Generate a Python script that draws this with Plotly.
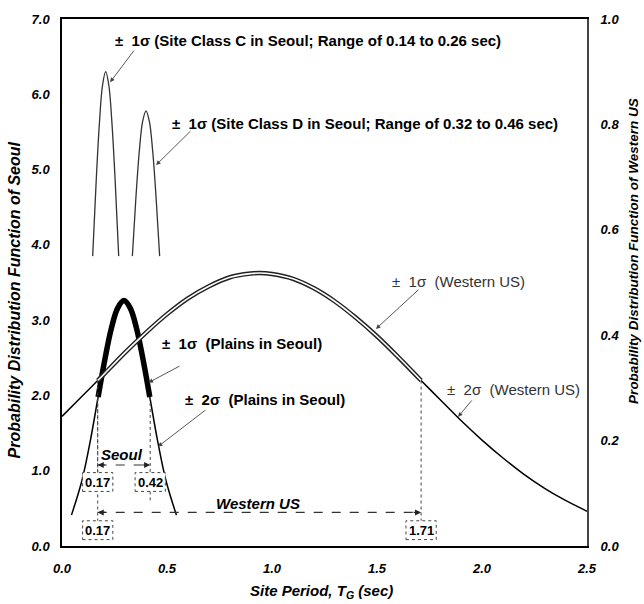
import plotly.graph_objects as go

FONT = "Arial, 'Liberation Sans', sans-serif"

# Western US site-period distribution (right axis)
wus_period = [0.0, 0.1, 0.17, 0.2, 0.3, 0.4, 0.5, 0.6, 0.7, 0.8, 0.9, 0.94, 1.0,
              1.1, 1.2, 1.3, 1.4, 1.5, 1.6, 1.71, 1.8, 1.9, 2.0, 2.1, 2.2, 2.3, 2.4, 2.5]
wus_pdf = [0.246, 0.286, 0.314, 0.326, 0.367, 0.405, 0.440, 0.470, 0.493, 0.510, 0.517, 0.518, 0.516,
           0.507, 0.489, 0.464, 0.433, 0.398, 0.359, 0.314, 0.278, 0.238, 0.201, 0.167, 0.136, 0.109, 0.086, 0.066]
wus_range = [0.17, 1.71]

# Plains in Seoul (left axis)
seoul_period = [0.045, 0.095, 0.135, 0.172, 0.205, 0.235, 0.265, 0.295, 0.325, 0.355, 0.385, 0.418, 0.455, 0.495, 0.545]
seoul_pdf = [0.41, 0.87, 1.40, 1.98, 2.49, 2.89, 3.16, 3.26, 3.16, 2.89, 2.49, 1.98, 1.40, 0.87, 0.41]
seoul_range = [0.17, 0.42]

# Site classes C and D in Seoul (left axis, +/- 1 sigma)
class_c_period = [0.146, 0.163, 0.178, 0.193, 0.208, 0.223, 0.238, 0.253, 0.270]
class_c_pdf = [3.85, 4.86, 5.61, 6.12, 6.30, 6.12, 5.61, 4.86, 3.85]
class_d_period = [0.335, 0.352, 0.368, 0.384, 0.400, 0.416, 0.432, 0.448, 0.465]
class_d_pdf = [3.85, 4.63, 5.24, 5.64, 5.78, 5.64, 5.24, 4.63, 3.85]

x_ticks = [0.0, 0.5, 1.0, 1.5, 2.0, 2.5]
y_ticks = [0.0, 1.0, 2.0, 3.0, 4.0, 5.0, 6.0, 7.0]
y2_ticks = [0.0, 0.2, 0.4, 0.6, 0.8, 1.0]

Y_MAX = 7.0
Y2_MAX = 1.0
SCALE = Y_MAX / Y2_MAX  # right-axis value -> left-axis value


def within(xs, ys, lo, hi):
    pts = [(a, b) for a, b in zip(xs, ys) if lo - 1e-9 <= a <= hi + 0.005]
    return [p[0] for p in pts], [p[1] for p in pts]


def wus_at(x):
    for a, b in zip(wus_period, wus_pdf):
        if abs(a - x) < 1e-9:
            return b
    return None


fig = go.Figure()

spline = dict(shape="spline", smoothing=1.0)

fig.add_trace(go.Scatter(x=class_c_period, y=class_c_pdf, mode="lines",
                         line=dict(color="#333", width=1.3, **spline), yaxis="y"))
fig.add_trace(go.Scatter(x=class_d_period, y=class_d_pdf, mode="lines",
                         line=dict(color="#333", width=1.3, **spline), yaxis="y"))

fig.add_trace(go.Scatter(x=seoul_period, y=seoul_pdf, mode="lines",
                         line=dict(color="black", width=1.5, **spline), yaxis="y"))
sx, sy = within(seoul_period, seoul_pdf, seoul_range[0], seoul_range[1])
fig.add_trace(go.Scatter(x=sx, y=sy, mode="lines",
                         line=dict(color="black", width=5.5, **spline), yaxis="y"))

fig.add_trace(go.Scatter(x=wus_period, y=wus_pdf, mode="lines",
                         line=dict(color="black", width=1.5, **spline), yaxis="y2"))
wx, wy = within(wus_period, wus_pdf, wus_range[0], wus_range[1])
fig.add_trace(go.Scatter(x=wx, y=wy, mode="lines",
                         line=dict(color="#222", width=4.5, **spline), yaxis="y2"))
fig.add_trace(go.Scatter(x=wx, y=wy, mode="lines",
                         line=dict(color="white", width=1.6, **spline), yaxis="y2"))

shapes = []
annotations = []
dash_line = dict(color="#444", width=1, dash="dot")

# Seoul +/- 1 sigma limits
seoul_top = seoul_pdf[seoul_period.index(0.172)]
box_seoul_y = 0.85
box_low_y = 0.21
box_hw, box_hh = 0.072, 0.125
for v in seoul_range:
    shapes.append(dict(type="line", xref="x", yref="y", x0=v, x1=v,
                       y0=seoul_top, y1=box_seoul_y + box_hh, line=dash_line))
shapes.append(dict(type="line", xref="x", yref="y", x0=seoul_range[1], x1=seoul_range[1],
                   y0=box_seoul_y - box_hh, y1=0.57, line=dash_line))

# Western US +/- 1 sigma limits
for v in wus_range:
    shapes.append(dict(type="line", xref="x", yref="y", x0=v, x1=v,
                       y0=wus_at(v) * SCALE, y1=box_low_y + box_hh, line=dash_line))

# horizontal range arrows
seoul_arrow_y = 1.075
wus_arrow_y = 0.446
for y0, rng in [(seoul_arrow_y, seoul_range), (wus_arrow_y, wus_range)]:
    shapes.append(dict(type="line", xref="x", yref="y", x0=rng[0], x1=rng[1],
                       y0=y0, y1=y0, line=dict(color="#333", width=1.1, dash="dash")))
    annotations.append(dict(x=rng[0], y=y0, xref="x", yref="y", ax=9, ay=0, text="",
                            showarrow=True, arrowhead=2, arrowsize=1.1, arrowwidth=1.1,
                            arrowcolor="#222"))
    annotations.append(dict(x=rng[1], y=y0, xref="x", yref="y", ax=-9, ay=0, text="",
                            showarrow=True, arrowhead=2, arrowsize=1.1, arrowwidth=1.1,
                            arrowcolor="#222"))

# value boxes
boxes = [(seoul_range[0], box_seoul_y), (seoul_range[1], box_seoul_y),
         (wus_range[0], box_low_y), (wus_range[1], box_low_y)]
for v, yc in boxes:
    shapes.append(dict(type="rect", xref="x", yref="y", x0=v - box_hw, x1=v + box_hw,
                       y0=yc - box_hh, y1=yc + box_hh, fillcolor="white",
                       line=dict(color="#444", width=1, dash="dot"), layer="above"))
    annotations.append(dict(x=v, y=yc, xref="x", yref="y", text=f"{v:.2f}", showarrow=False,
                            font=dict(family=FONT, size=13, color="black", weight="bold")))

annotations.append(dict(x=0.286, y=1.22, xref="x", yref="y", text="Seoul", showarrow=False,
                        font=dict(family=FONT, size=15, color="black", weight="bold", style="italic")))
annotations.append(dict(x=0.933, y=0.56, xref="x", yref="y", text="Western US", showarrow=False,
                        font=dict(family=FONT, size=15, color="black", weight="bold", style="italic")))

# curve labels
NB = "\u00a0"
bold_lbl = dict(family=FONT, size=15, color="black", weight="bold")
reg_lbl = dict(family=FONT, size=15, color="#333")
labels = [
    (0.243, 6.72, "y", f"±{NB}{NB}1σ (Site Class C in Seoul; Range of 0.14 to 0.26 sec)", bold_lbl),
    (0.514, 5.61, "y", f"±{NB}{NB}1σ (Site Class D in Seoul; Range of 0.32 to 0.46 sec)", bold_lbl),
    (0.467, 2.69, "y", f"±{NB}{NB}1σ{NB}{NB}(Plains in Seoul)", bold_lbl),
    (0.576, 1.94, "y", f"±{NB}{NB}2σ{NB}{NB}(Plains in Seoul)", bold_lbl),
    (1.562, 0.502, "y2", f"±{NB}{NB}1σ{NB}{NB}(Western US)", reg_lbl),
    (1.824, 0.297, "y2", f"±{NB}{NB}2σ{NB}{NB}(Western US)", reg_lbl),
]
for x, y, yr, t, f in labels:
    annotations.append(dict(x=x, y=y, xref="x", yref=yr, text=t, showarrow=False,
                            xanchor="left", yanchor="middle", font=f))

# pointer arrows (tip, tail)
pointers = [
    ((0.229, 6.16), (0.348, 6.60), "y"),
    ((0.448, 5.06), (0.619, 5.53), "y"),
    ((0.412, 2.17), (0.567, 2.40), "y"),
    ((0.457, 1.32), (0.690, 1.82), "y"),
    ((1.495, 0.412), (1.705, 0.489), "y2"),
    ((1.886, 0.245), (1.957, 0.279), "y2"),
]
for (tx, ty), (ax, ay), yr in pointers:
    annotations.append(dict(x=tx, y=ty, xref="x", yref=yr, ax=ax, ay=ay, axref="x", ayref=yr,
                            text="", showarrow=True, arrowhead=2, arrowsize=1.0, arrowwidth=0.9,
                            arrowcolor="#444"))

# axis titles
annotations.append(dict(x=0, y=0.466, xref="paper", yref="paper", xshift=-48, textangle=-90,
                        xanchor="center", yanchor="middle",
                        text="Probability Distribution Function of Seoul", showarrow=False,
                        font=dict(family=FONT, size=16, color="black", weight="bold", style="italic")))
annotations.append(dict(x=1, y=0.56, xref="paper", yref="paper", xshift=47, textangle=-90,
                        xanchor="center", yanchor="middle",
                        text="Probability Distribution Function of Western US", showarrow=False,
                        font=dict(family=FONT, size=13.5, color="black", weight="bold", style="italic")))
annotations.append(dict(x=0.495, y=0, xref="paper", yref="paper", yshift=-45,
                        xanchor="center", yanchor="middle",
                        text="Site Period, <i>T</i><sub>G</sub> (sec)", showarrow=False,
                        font=dict(family=FONT, size=15, color="black", weight="bold", style="italic")))

tick_font = dict(family=FONT, size=13, color="black", weight="bold", style="italic")

fig.update_layout(
    width=644, height=604,
    margin=dict(l=62, r=57, t=12, b=58),
    paper_bgcolor="white", plot_bgcolor="white",
    showlegend=False,
    shapes=shapes,
    annotations=annotations,
    xaxis=dict(range=[0, 2.5], tickvals=x_ticks, ticktext=[f"{v:.1f}" for v in x_ticks],
               showgrid=False, zeroline=False, showline=True, mirror=True,
               linecolor="black", linewidth=1.5, ticks="", tickfont=tick_font,
               ticklabelstandoff=10),
    yaxis=dict(range=[0, Y_MAX], tickvals=y_ticks, ticktext=[f"{v:.1f}" for v in y_ticks],
               showgrid=False, zeroline=False, showline=True, linecolor="black", linewidth=1.5,
               ticks="", tickfont=tick_font, ticklabelstandoff=8),
    yaxis2=dict(range=[0, Y2_MAX], tickvals=y2_ticks, ticktext=[f"{v:.1f}" for v in y2_ticks],
                overlaying="y", side="right", showgrid=False, zeroline=False, showline=True,
                linecolor="#444", linewidth=2, ticks="", tickfont=tick_font,
                ticklabelstandoff=9),
)

fig.write_html("out.html")
